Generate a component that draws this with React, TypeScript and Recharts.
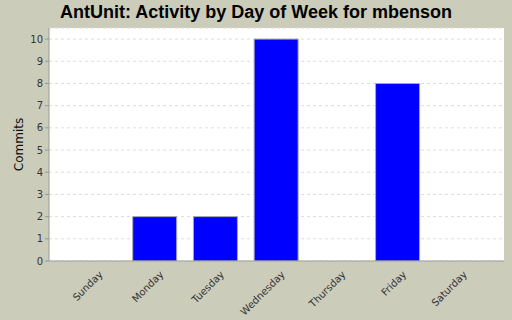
import { BarChart, Bar, XAxis, YAxis, CartesianGrid } from "recharts"

const days = ["Sunday", "Monday", "Tuesday", "Wednesday", "Thursday", "Friday", "Saturday"]
const commits = [0, 2, 2, 10, 0, 8, 0]
const yTicks = [0, 1, 2, 3, 4, 5, 6, 7, 8, 9, 10]

const data = days.map((day, i) => ({ day, commits: commits[i] }))

const tickFont = "'DejaVu Sans', sans-serif"

function DayTick(props: any) {
  const { x, y, payload } = props
  return (
    <text
      x={x + 9}
      y={y + 6}
      transform={`rotate(-45, ${x + 9}, ${y + 6})`}
      textAnchor="end"
      fontSize={10}
      fontFamily={tickFont}
      fill="#333"
    >
      {payload.value}
    </text>
  )
}

export default function App() {
  return (
    <div style={{ position: "fixed", left: 0, top: 0, width: 512, height: 320, background: "#CCCCBB" }}>
      <div
        style={{
          position: "absolute",
          top: 2,
          width: 512,
          textAlign: "center",
          fontFamily: "'Liberation Sans', Arial, sans-serif",
          fontWeight: "bold",
          fontSize: 18,
          color: "#000",
        }}
      >
        AntUnit: Activity by Day of Week for mbenson
      </div>
      <BarChart
        width={512}
        height={320}
        data={data}
        margin={{ top: 28, right: 8, bottom: 0, left: 0 }}
      >
        <CartesianGrid vertical={false} fill="#fff" stroke="#ddd" strokeDasharray="3 3" />
        <XAxis
          dataKey="day"
          height={59}
          padding={{ left: 15, right: 15 }}
          tick={<DayTick />}
          tickLine={false}
          axisLine={{ stroke: "#999" }}
          interval={0}
        />
        <XAxis
          xAxisId="top"
          orientation="top"
          dataKey="day"
          height={0}
          tick={false}
          tickLine={false}
          axisLine={{ stroke: "#aaa" }}
        />
        <YAxis
          type="number"
          width={49}
          domain={[0, 10.5]}
          allowDataOverflow
          ticks={yTicks}
          interval={0}
          tick={{ fontSize: 10, fontFamily: tickFont, fill: "#333" }}
          tickLine={{ stroke: "#999" }}
          tickSize={4}
          axisLine={{ stroke: "#999" }}
          label={{
            value: "Commits",
            angle: -90,
            position: "insideLeft",
            offset: 19,
            style: { fontSize: 12, fontFamily: tickFont, fill: "#111", textAnchor: "middle" },
          }}
        />
        <YAxis
          yAxisId="right"
          orientation="right"
          width={0}
          domain={[0, 10.5]}
          tick={false}
          tickLine={false}
          axisLine={{ stroke: "#aaa" }}
        />
        <Bar dataKey="commits" fill="#0000FF" stroke="#aaa" barSize={44} isAnimationActive={false} />
      </BarChart>
    </div>
  )
}
